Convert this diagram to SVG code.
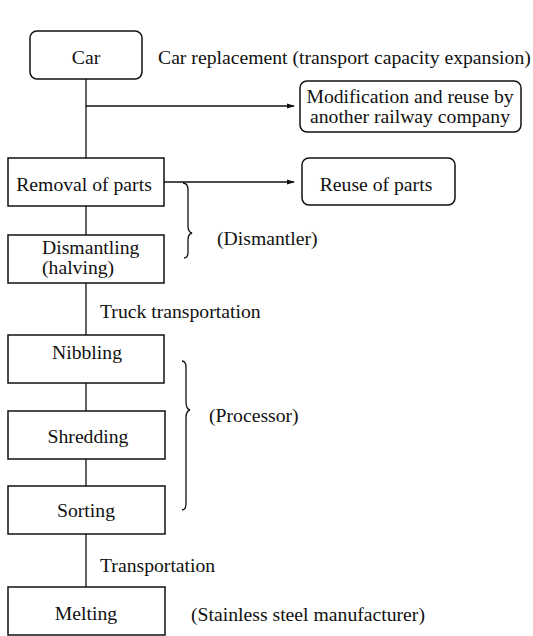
<svg xmlns="http://www.w3.org/2000/svg" width="533" height="636" viewBox="0 0 533 636">
<style>
text{font-family:"Liberation Serif","Times New Roman",serif;font-size:19.7px;fill:#111}
.box{fill:#fff;stroke:#111;stroke-width:1.5}
.ln{fill:none;stroke:#111;stroke-width:1.3}
.br{fill:none;stroke:#111;stroke-width:1.3}
.c{text-anchor:middle}
</style>
<defs>
<marker id="ah" markerWidth="8" markerHeight="6" refX="7" refY="3" orient="auto" markerUnits="userSpaceOnUse">
<path d="M0,0.5 L8,3 L0,5.5 Z" fill="#111"/>
</marker>
</defs>
<rect width="533" height="636" fill="#fff"/>
<g id="connectors">
<line class="ln" x1="86" y1="79" x2="86" y2="158"/>
<line class="ln" x1="86" y1="106" x2="294" y2="106" marker-end="url(#ah)"/>
<line class="ln" x1="164" y1="182" x2="294" y2="182" marker-end="url(#ah)"/>
<line class="ln" x1="86" y1="206" x2="86" y2="235"/>
<line class="ln" x1="86" y1="283" x2="86" y2="335"/>
<line class="ln" x1="86" y1="383" x2="86" y2="411"/>
<line class="ln" x1="86" y1="459" x2="86" y2="486"/>
<line class="ln" x1="86" y1="534" x2="86" y2="587"/>
</g>
<g id="car"><rect class="box" x="30" y="31" width="112" height="48" rx="7"/><text class="c" x="86" y="64">Car</text></g>
<g id="car-replacement"><text x="158" y="64">Car replacement (transport capacity expansion)</text></g>
<g id="modification"><rect class="box" x="300" y="81" width="221" height="51" rx="7"/><text class="c" x="410" y="103">Modification and reuse by</text><text class="c" x="410" y="123">another railway company</text></g>
<g id="removal"><rect class="box" x="8" y="158" width="156" height="48"/><text class="c" x="84" y="191">Removal of parts</text></g>
<g id="reuse"><rect class="box" x="302" y="158" width="153" height="47" rx="7"/><text class="c" x="376" y="191">Reuse of parts</text></g>
<g id="dismantling"><rect class="box" x="8" y="235" width="156" height="48"/><text x="42" y="254">Dismantling</text><text x="42" y="274">(halving)</text></g>
<g id="dismantler"><path class="br" d="M183,183 Q188,183 188,190 L188,226 Q188,232 192,233 Q188,234 188,240 L188,252 Q188,258 184,258"/><text x="217" y="245">(Dismantler)</text></g>
<g id="truck"><text x="100" y="318">Truck transportation</text></g>
<g id="nibbling"><rect class="box" x="8" y="335" width="156" height="48"/><text class="c" x="87" y="359">Nibbling</text></g>
<g id="shredding"><rect class="box" x="8" y="411" width="157" height="48"/><text class="c" x="88" y="443">Shredding</text></g>
<g id="sorting"><rect class="box" x="8" y="486" width="157" height="48"/><text class="c" x="86" y="517">Sorting</text></g>
<g id="processor"><path class="br" d="M182,361 Q186,361 186,368 L186,402 Q186,409 190,410 Q186,411 186,418 L186,503 Q186,510 182,510"/><text x="209" y="422">(Processor)</text></g>
<g id="transportation"><text x="100" y="572">Transportation</text></g>
<g id="melting"><rect class="box" x="8" y="587" width="157" height="48"/><text class="c" x="86" y="620">Melting</text></g>
<g id="manufacturer"><text x="191" y="621">(Stainless steel manufacturer)</text></g>
</svg>
